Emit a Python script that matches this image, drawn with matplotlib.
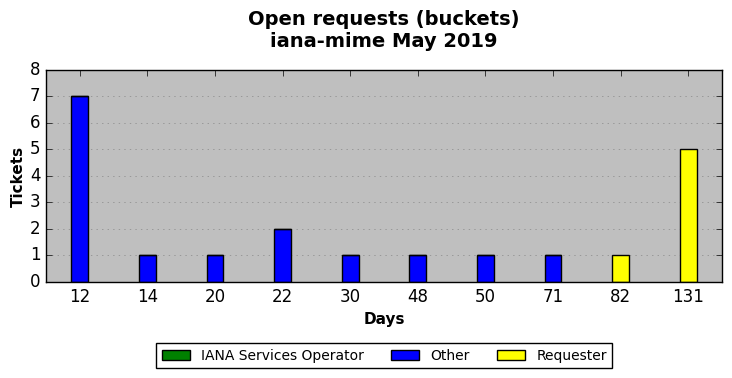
import matplotlib
matplotlib.use("Agg")
import matplotlib.pyplot as plt
import numpy as np

days = ["12", "14", "20", "22", "30", "48", "50", "71", "82", "131"]
iana = [0, 0, 0, 0, 0, 0, 0, 0, 0, 0]
other = [7, 1, 1, 2, 1, 1, 1, 1, 0, 0]
requester = [0, 0, 0, 0, 0, 0, 0, 0, 1, 5]

plt.style.use("classic")
fig = plt.figure(figsize=(7.32, 3.78), dpi=100, facecolor="white")
ax = fig.add_axes([0.0628, 0.254, 0.9235, 0.561])
ax.set_facecolor("#bfbfbf")

x = np.arange(len(days))
w = 0.25
ax.bar(x, iana, w, color="green", label="IANA Services Operator", align="center")
ax.bar(x, other, w, bottom=iana, color="blue", label="Other", align="center")
ax.bar(x, requester, w, bottom=np.array(iana) + np.array(other), color="yellow",
       label="Requester", align="center")

ax.set_xlim(-0.5, len(days) - 0.5)
ax.set_ylim(0, 8)
ax.set_xticks(x)
ax.set_xticklabels(days, fontsize=12)
ax.tick_params(axis="y", labelsize=12)
ax.yaxis.grid(True, linestyle=":", color="#888888")
ax.set_axisbelow(True)
ax.set_xlabel("Days", fontsize=11, fontweight="bold")
ax.set_ylabel("Tickets", fontsize=11, fontweight="bold", labelpad=3)
ax.set_title("Open requests (buckets)\niana-mime May 2019", fontsize=14,
             fontweight="bold", y=1.075)

fig.legend(loc="lower center", ncol=3, fontsize=10, bbox_to_anchor=(0.525, 0.007),
           frameon=True, handlelength=2.0, columnspacing=2.0)

plt.savefig("out.png", dpi=100, facecolor="white")
